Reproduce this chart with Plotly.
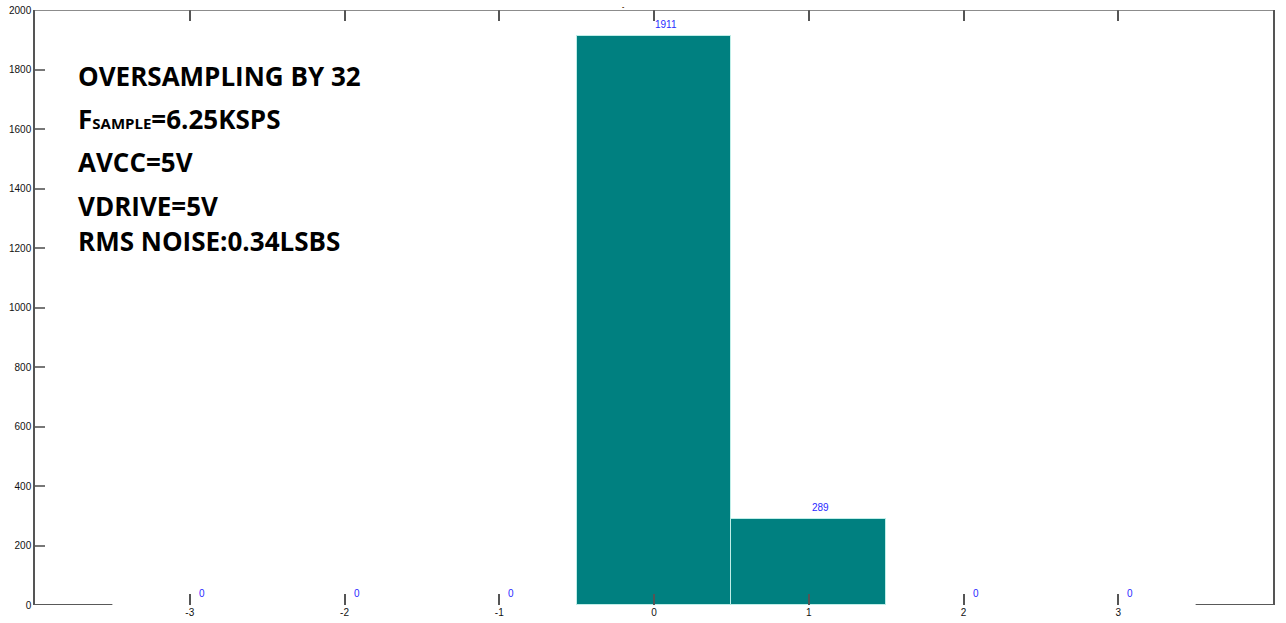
import plotly.graph_objects as go

# Data
bins = [-3, -2, -1, 0, 1, 2, 3]
counts = [0, 0, 0, 1911, 289, 0, 0]
y_ticks = [0, 200, 400, 600, 800, 1000, 1200, 1400, 1600, 1800, 2000]
notes = [
    "OVERSAMPLING BY 32",
    "F<span style=\"font-size:15px\">SAMPLE</span>=6.25KSPS",
    "AVCC=5V",
    "VDRIVE=5V",
    "RMS NOISE:0.34LSBS",
]
note_y = [1777, 1632, 1488, 1340, 1222]

fig = go.Figure()
fig.add_trace(go.Bar(
    x=bins, y=counts, width=1,
    marker=dict(color="#008080",
                line=dict(color=["rgba(0,0,0,0)" if c == 0 else "#bfeee8" for c in counts], width=1)),
    hoverinfo="x+y", showlegend=False,
))

annotations = []
for b, c in zip(bins, counts):
    annotations.append(dict(x=b, y=c, xref="x", yref="y", text=str(c), showarrow=False,
                            xshift=12, yshift=12, font=dict(family="Liberation Sans", size=10, color="#2a2aff")))
for t, yy in zip(notes, note_y):
    annotations.append(dict(x=-3.733, y=yy, xref="x", yref="y", text="<b>" + t + "</b>", showarrow=False,
                            xanchor="left", yanchor="middle",
                            font=dict(family="Open Sans", size=26, color="#000000")))
annotations.append(dict(x=0.475, y=1.0, xref="paper", yref="paper", text="<b>-</b>", showarrow=False,
                        yanchor="middle", yshift=4, font=dict(family="Liberation Sans", size=7, color="#5a3a10")))

shapes = [
    dict(type="line", xref="x", yref="y", x0=-4, x1=4, y0=2000, y1=2000, line=dict(color="#666666", width=1.5)),
    dict(type="line", xref="x", yref="y", x0=-4, x1=-3.5, y0=0, y1=0, line=dict(color="#222222", width=1.5)),
    dict(type="line", xref="x", yref="y", x0=3.5, x1=4, y0=0, y1=0, line=dict(color="#222222", width=1.5)),
]

fig.update_layout(
    width=1286, height=623,
    margin=dict(l=35, r=13, t=10, b=18, autoexpand=False),
    paper_bgcolor="white", plot_bgcolor="white",
    bargap=0,
    xaxis=dict(range=[-4, 4], tickvals=bins, ticktext=[str(b) for b in bins],
               showline=False, mirror="ticks", ticks="inside", ticklen=11, tickwidth=1.5,
               tickcolor="#555555", showgrid=False, zeroline=False, automargin=False,
               tickfont=dict(family="Liberation Sans", size=10, color="#111111")),
    yaxis=dict(range=[0, 2000], tickvals=y_ticks, showline=True, mirror=True, linecolor="#555555",
               linewidth=1.5, ticks="inside", ticklen=10, tickwidth=1.5, tickcolor="#777777",
               showgrid=False, zeroline=False, automargin=False,
               tickfont=dict(family="Liberation Sans", size=10, color="#111111")),
    annotations=annotations,
    shapes=shapes,
)

fig.write_html("out.html", config={"displayModeBar": False},
               post_script="document.body.style.margin='0';")
